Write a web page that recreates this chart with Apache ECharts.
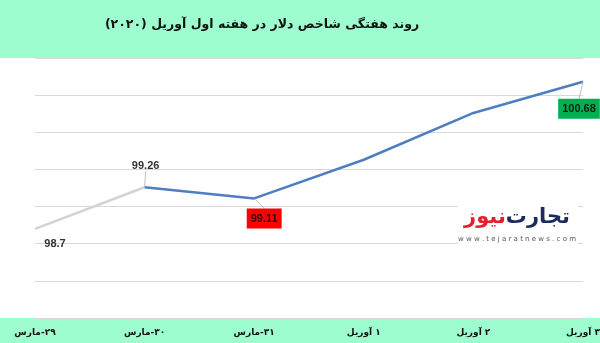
<!DOCTYPE html>
<html>
<head>
<meta charset="utf-8">
<script src="https://cdn.jsdelivr.net/npm/echarts@6/dist/echarts.min.js"></script>
<style>
html,body{margin:0;padding:0;background:#fff;}
#c{width:600px;height:343px;}
</style>
</head>
<body>
<div id="c"></div>
<script>
var titleText = 'روند هفتگی شاخص دلار در هفته اول آوریل (۲۰۲۰)\u200F';
var categories = ['۲۹-مارس', '۳۰-مارس', '۳۱-مارس', '۱ آوریل', '۲ آوریل', '۳ آوریل'];
var values = [98.7, 99.26, 99.11, 99.63, 100.26, 100.68];
var labelled = [true, true, true, false, false, true];
var yMin = 97.5, yMax = 101, yStep = 0.5;

var GREEN = '#9dfdcf';
var labelStyles = [
  {},
  {},
  {backgroundColor: '#ff0000', color: '#2a0a0a', padding: [5, 4, 4, 4]},
  {},
  {},
  {backgroundColor: '#00b050', color: '#0f1f14', padding: [5, 4, 4, 4]}
];
var labelPos = ['bottom', 'top', 'bottom', 'top', 'top', 'bottom'];
var labelShift = [[20, 5], [1, -11], [10, 5], [0, 0], [0, 0], [-4, 12]];

var grayData = values.map(function (v, i) { return i <= 1 ? v : null; });
var blueData = values.map(function (v, i) {
  if (i < 1) return null;
  var o = {value: v};
  o.label = Object.assign({show: labelled[i], position: labelPos[i]}, labelStyles[i]);
  return o;
});
grayData[0] = {value: values[0], label: {show: true, position: labelPos[0]}};

var chart = echarts.init(document.getElementById('c'), null, {renderer: 'canvas'});
chart.setOption({
  animation: false,
  backgroundColor: '#ffffff',
  graphic: [
    {type: 'rect', z: -10, shape: {x: 0, y: 0, width: 600, height: 58}, style: {fill: GREEN}},
    {type: 'rect', z: -10, shape: {x: 0, y: 318, width: 600, height: 25}, style: {fill: GREEN}},
    {type: 'text', z: 5, x: 262, y: 25, style: {text: titleText, fontFamily: 'DejaVu Sans', fontWeight: 'bold', fontSize: 12.5, fill: '#111', align: 'center', verticalAlign: 'middle'}},
    {type: 'rect', z: 10, shape: {x: 458, y: 203, width: 120, height: 42}, style: {fill: '#ffffff'}},
    {type: 'text', z: 11, x: 517, y: 218, style: {
      text: '{r|نیوز}{b|تجارت}', align: 'center', verticalAlign: 'middle',
      rich: {
        r: {fontFamily: 'DejaVu Sans', fontWeight: 'bold', fontSize: 21, fill: '#e3212a', color: '#e3212a'},
        b: {fontFamily: 'DejaVu Sans', fontWeight: 'bold', fontSize: 21, fill: '#1d2a5c', color: '#1d2a5c'}
      }
    }},
    {type: 'text', z: 11, x: 517, y: 239, style: {text: 'w w w . t e j a r a t n e w s . c o m', fontFamily: 'DejaVu Sans', fontSize: 7, fill: '#555', align: 'center', verticalAlign: 'middle'}}
  ],
  grid: {left: 35, right: 17, top: 58, bottom: 25, containLabel: false, outerBoundsMode: 'none'},
  xAxis: {type: 'category', data: categories, boundaryGap: false,
    axisLine: {show: false}, axisTick: {show: false}, splitLine: {show: false},
    axisLabel: {show: true, margin: 10, fontFamily: 'DejaVu Sans', fontWeight: 'bold', fontSize: 9, color: '#111', interval: 0,
      formatter: function (v) { return '\u200F' + v; }}},
  yAxis: {type: 'value', min: yMin, max: yMax, interval: yStep,
    axisLine: {show: false}, axisTick: {show: false}, axisLabel: {show: false},
    splitLine: {show: true, lineStyle: {color: '#d9d9d9', width: 1}}},
  series: [
    {type: 'line', data: grayData, symbol: 'circle', symbolSize: 0.1, showSymbol: true,
     itemStyle: {color: '#d3d3d3'}, connectNulls: false,
     lineStyle: {color: '#d3d3d3', width: 2.5}, z: 3,
     label: {show: false, fontFamily: 'Liberation Sans', fontWeight: 'bold', fontSize: 11, color: '#333'},
     labelLayout: function (p) { return {dx: labelShift[0][0], dy: labelShift[0][1]}; }
    },
    {type: 'line', data: blueData, symbol: 'circle', symbolSize: 0.1, showSymbol: true,
     itemStyle: {color: '#4f7ec0'}, connectNulls: false,
     lineStyle: {color: '#4f7ec0', width: 2.5}, z: 4,
     label: {show: false, fontFamily: 'Liberation Sans', fontWeight: 'bold', fontSize: 11, color: '#333'},
     labelLine: {show: true, lineStyle: {color: '#bfbfbf', width: 1}},
     labelLayout: function (p) { var s = labelShift[p.dataIndex]; return {dx: s[0], dy: s[1]}; }
    }
  ]
});
</script>
</body>
</html>
